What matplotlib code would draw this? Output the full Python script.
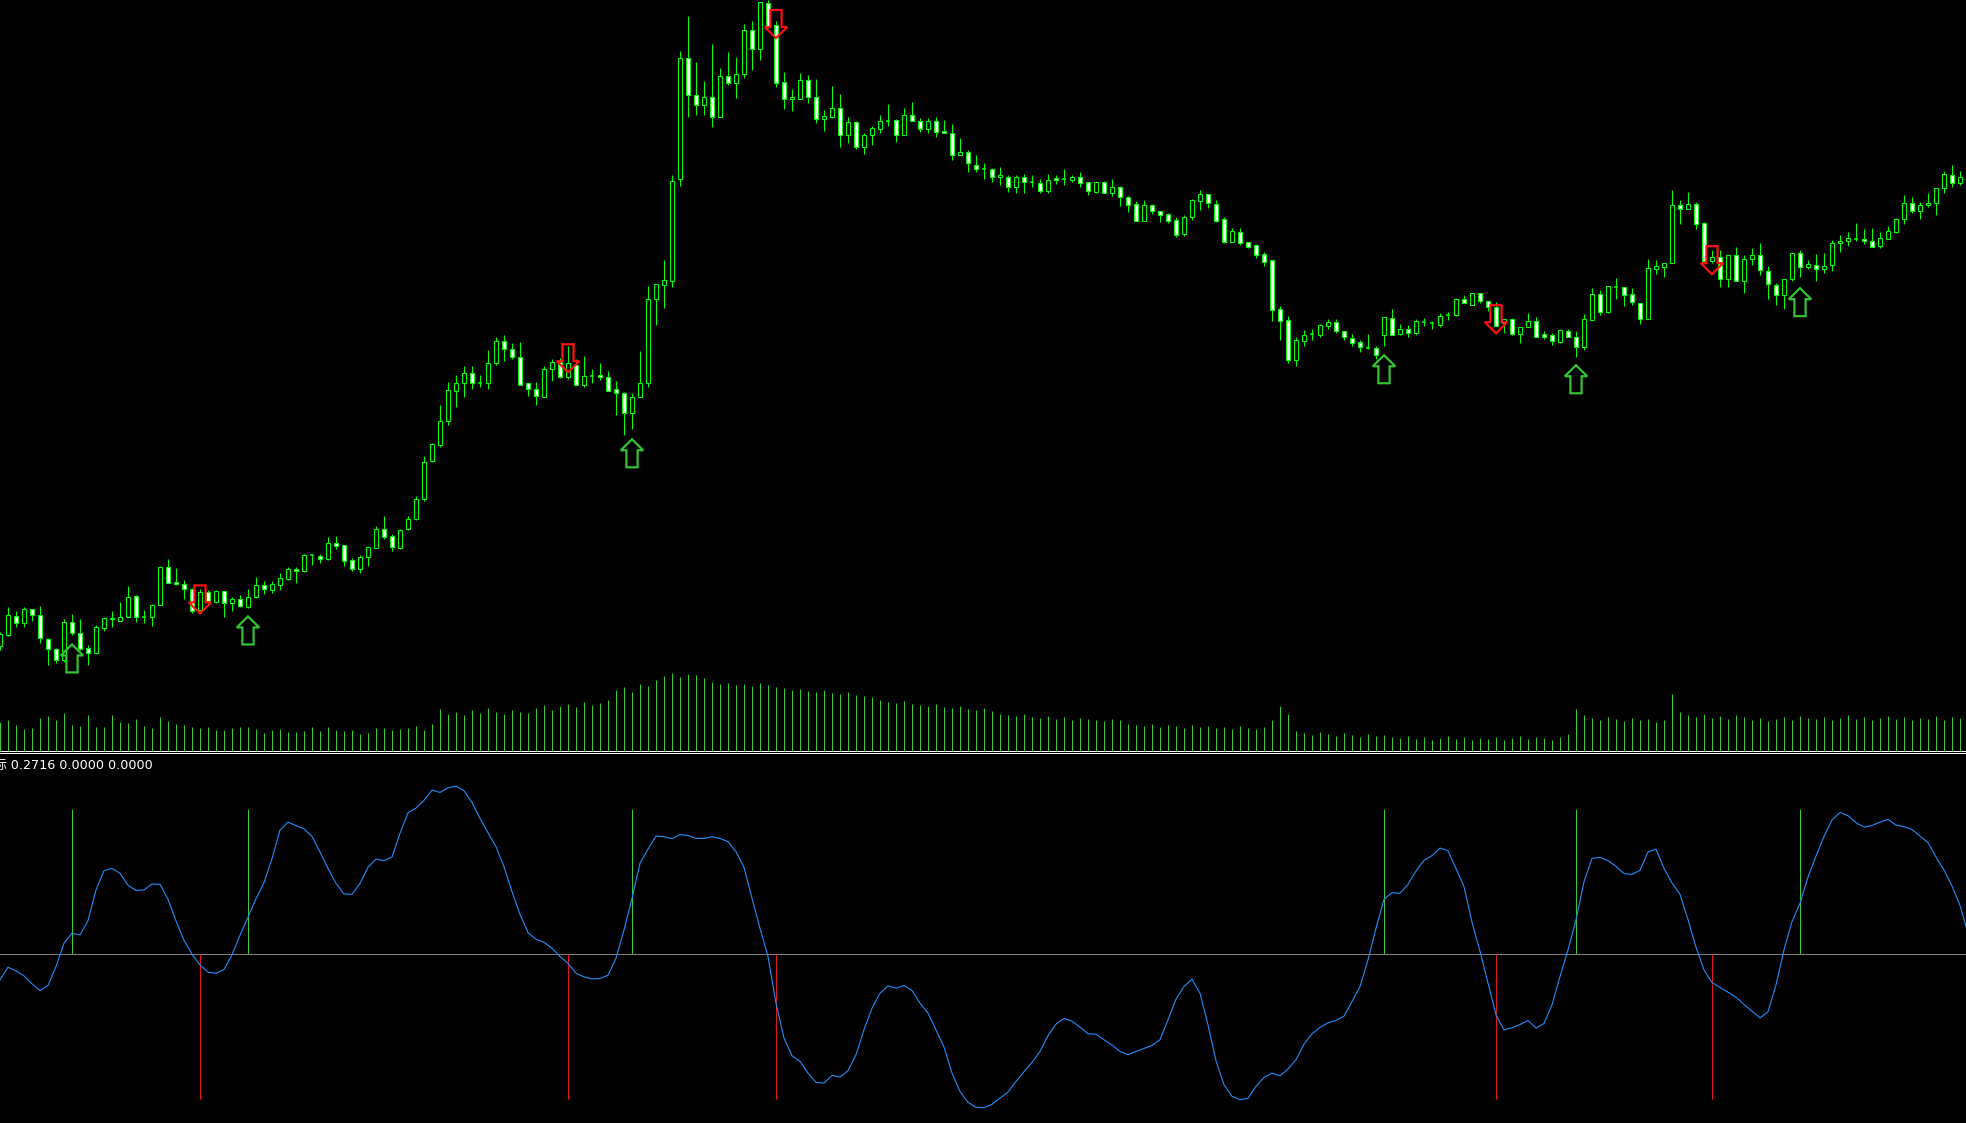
import matplotlib
matplotlib.use("Agg")
import matplotlib.pyplot as plt
from matplotlib.patches import Rectangle, Polygon
import numpy as np

# ---------------- data ----------------
OPEN = [154,165,184,177,191,185,161,151,140,178,
        167,152,147,172,181,179,183,204,183,183,
        195,233,218,216,211,190,208,198,209,197,
        201,193,203,215,210,215,221,231,229,245,
        244,241,257,255,240,231,243,252,271,264,
        252,271,281,301,339,355,379,409,417,427,
        417,417,437,459,451,443,417,411,403,431,
        438,423,435,415,424,425,423,411,407,387,
        403,417,501,515,519,621,742,705,695,703,
        683,724,717,726,770,751,797,775,718,701,
        701,720,703,681,683,692,665,678,653,665,
        671,679,680,665,685,679,671,679,669,667,
        645,648,635,631,631,623,623,613,623,618,
        617,609,622,621,620,623,618,608,618,607,
        613,603,596,579,595,589,586,580,566,583,
        599,606,596,581,558,568,558,555,546,540,
        491,480,440,459,466,465,474,478,469,462,
        458,452,452,465,482,466,471,467,478,477,
        475,485,485,501,495,507,499,493,477,481,
        466,473,479,466,465,458,469,463,453,480,
        506,488,513,513,506,497,481,531,533,537,
        595,591,596,577,539,543,521,545,519,541,
        545,529,515,505,521,547,533,535,531,535,
        557,559,561,561,559,554,561,568,581,597,
        589,595,597,612,625,617]
HIGH = [168,193,189,193,191,194,162,152,181,186,
        181,155,175,183,189,198,214,205,190,196,
        234,241,232,220,212,211,210,210,209,203,
        205,211,223,219,219,227,233,233,246,245,
        246,263,264,255,242,245,254,274,284,266,
        271,284,304,344,357,395,418,425,434,434,
        425,450,463,465,457,458,417,418,434,441,
        442,454,441,444,431,437,429,419,408,407,
        449,514,516,540,625,749,784,738,719,756,
        732,748,743,776,779,798,800,779,728,711,
        727,725,721,690,714,706,683,679,667,674,
        685,696,681,692,698,682,682,683,680,676,
        662,650,645,637,632,633,625,625,626,625,
        621,626,625,631,625,628,618,619,619,621,
        614,604,599,600,596,589,587,583,585,601,
        610,606,600,583,572,572,558,555,548,540,
        494,484,463,470,471,476,481,481,469,466,
        460,466,454,483,491,476,475,481,482,479,
        487,488,502,505,507,507,499,498,481,482,
        473,487,483,469,467,471,471,469,486,512,
        510,514,522,513,512,497,541,540,537,610,
        600,608,598,578,550,550,545,553,545,552,
        557,534,517,521,547,550,540,546,547,560,
        565,568,577,571,572,568,574,582,605,603,
        598,607,612,629,635,629]
LOW = [150,164,173,173,179,157,135,137,138,165,
       150,135,146,169,173,179,182,178,177,174,
       195,217,215,201,187,189,197,197,183,189,
       193,192,202,206,207,210,220,217,228,235,
       237,240,251,234,229,227,234,252,261,249,
       251,270,280,299,338,353,375,393,403,411,
       413,411,435,439,441,415,404,395,403,419,
       422,421,415,413,417,420,409,385,365,371,
       403,413,475,492,513,614,683,685,685,673,
       683,715,702,722,730,740,772,713,691,689,
       701,697,677,669,682,653,657,651,646,655,
       667,674,658,665,679,668,667,663,667,640,
       645,628,628,621,618,615,608,607,607,613,
       607,607,616,615,618,613,605,607,607,604,
       594,588,579,579,586,578,577,563,564,580,
       590,592,578,557,558,555,552,542,534,479,
       460,437,434,454,460,463,471,467,460,454,
       448,451,441,454,465,465,463,465,474,471,
       473,480,484,497,495,497,489,474,467,465,
       457,473,463,461,455,457,463,443,450,480,
       485,487,501,494,495,476,481,526,523,537,
       576,591,571,539,537,513,513,519,507,535,
       525,501,495,491,519,523,531,519,527,529,
       548,554,559,556,553,552,561,567,576,587,
       581,593,585,607,613,615]
CLOSE = [166,185,177,191,185,162,151,140,178,167,
         151,147,173,182,182,183,203,183,183,195,
         233,217,216,211,189,208,199,209,197,201,
         194,203,215,211,216,222,231,229,245,245,
         241,257,254,239,231,243,253,271,263,253,
         270,281,301,338,356,379,410,417,427,417,
         417,437,459,451,443,415,411,404,431,438,
         423,437,415,424,424,423,409,407,387,403,
         417,501,516,520,619,742,705,695,703,683,
         724,717,726,770,751,798,773,717,701,703,
         720,703,681,684,692,665,678,653,665,672,
         679,679,665,685,679,671,679,668,667,645,
         648,637,631,631,623,625,613,623,618,618,
         609,620,620,621,623,617,609,618,607,613,
         603,595,579,595,589,585,579,565,583,600,
         606,597,579,558,569,557,553,545,538,490,
         479,440,460,465,466,475,478,469,463,457,
         453,452,445,483,465,471,467,479,478,477,
         484,485,501,497,507,499,493,474,481,466,
         473,479,463,463,459,470,463,453,481,506,
         488,514,513,505,498,481,532,534,537,595,
         591,596,576,539,543,521,545,519,541,545,
         530,516,505,521,547,533,536,531,534,557,
         559,562,561,559,553,562,569,581,597,589,
         595,597,612,626,617,623]
VOLUME = [28,30,25,21,22,32,34,30,37,25,
          24,35,23,23,35,28,27,31,24,22,
          33,29,26,25,23,22,23,20,20,22,
          23,23,21,17,20,21,18,18,19,23,
          19,23,20,19,20,16,17,22,22,20,
          21,22,24,20,26,
          41,36,38,35,40,37,42,38,36,40,38,37,
          42,45,40,44,46,43,48,45,47,50,
          60,63,58,66,64,70,
          74,77,73,76,75,72,
          68,66,67,65,66,64,67,65,
          63,62,60,61,59,58,60,57,56,58,55,54,53,
          50,48,47,49,46,45,44,46,43,42,44,41,40,42,39,
          36,35,34,36,33,32,34,31,33,30,32,31,30,29,31,30,
          26,25,24,26,23,25,24,22,25,23,24,22,23,21,24,22,21,23,
          30,44,36,
          19,17,15,18,16,14,17,15,13,16,14,
          15,13,12,14,11,13,10,12,14,11,13,10,12,11,13,10,12,14,11,13,12,10,13,16,
          41,35,
          32,30,33,31,29,32,30,31,28,30,
          56,
          38,35,33,36,32,34,31,35,33,30,32,29,31,33,30,34,32,
          31,33,30,32,35,31,33,30,32,34,31,33,30,32,31,34,30,33,32]
# oscillator values (last one belongs to the bar just past the right edge)
OSC = [-77,-39,-50,-65,-89,-109,-94,-37,33,63,
       58,101,193,251,258,243,207,192,193,211,
       210,165,100,42,0,-32,-54,-57,-46,-2,
       57,111,167,215,287,373,397,386,377,354,
       307,258,213,181,180,213,261,286,281,292,
       363,425,439,462,493,486,500,505,491,456,
       408,365,323,263,188,120,65,45,36,18,
       -7,-27,-57,-68,-74,-73,-63,-12,73,168,
       273,316,355,353,347,359,357,348,348,353,
       348,338,308,261,168,78,-7,-147,-252,-305,
       -322,-357,-385,-387,-364,-369,-350,-302,-227,-162,
       -117,-95,-102,-94,-109,-147,-177,-227,-279,-357,
       -412,-445,-460,-461,-451,-432,-414,-382,-353,-325,
       -292,-245,-210,-193,-201,-219,-239,-240,-257,-273,
       -292,-302,-292,-283,-274,-257,-197,-135,-97,-75,
       -117,-212,-320,-392,-427,-437,-433,-397,-370,-357,
       -365,-345,-317,-270,-239,-220,-206,-199,-186,-142,
       -97,-17,78,165,185,183,210,250,282,296,
       319,311,257,203,96,9,-87,-182,-227,-221,
       -211,-199,-222,-208,-152,-67,13,103,218,288,
       291,281,264,242,240,252,307,316,258,214,
       180,104,21,-47,-85,-100,-114,-129,-151,-171,
       -191,-173,-92,13,98,153,232,295,354,403,
       426,416,395,382,387,397,405,388,383,375,
       355,335,292,253,205,147,63]
BUY_IDX = [9, 31, 79, 173, 197, 225]
BUY_PRICE = [156, 184, 361, 445, 435, 512]      # arrow tip
SELL_IDX = [25, 71, 97, 187, 214]
SELL_PRICE = [215, 456, 790, 495, 554]          # arrow top
BUY_LEVEL = 437
SELL_LEVEL = -435
LABEL = "标 0.2716 0.0000 0.0000"

# ---------------- figure ----------------
W, H = 1966, 1123
DPI = 100
fig = plt.figure(figsize=(W / DPI, H / DPI), dpi=DPI, facecolor="black")
px = 72.0 / DPI  # one pixel in points

main_top, main_bot = 0, 750.5
ind_top, ind_bot = 752.5, 1123
ax = fig.add_axes([0, 1 - main_bot / H, 1, (main_bot - main_top) / H])
axv = fig.add_axes([0, 1 - main_bot / H, 1, (main_bot - main_top) / H], sharex=ax)
axi = fig.add_axes([0, 0, 1, (ind_bot - ind_top) / H], sharex=ax)

n = len(CLOSE)
x = np.arange(n)
for a in (ax, axv, axi):
    a.set_facecolor("black")
    a.set_xticks([])
    a.set_yticks([])
    for s in a.spines.values():
        s.set_visible(False)
axv.set_facecolor("none")
axv.patch.set_alpha(0)

ax.set_xlim(0, W / 8.0)
ax.set_ylim(50, 800)
axv.set_ylim(0, 750)
axi.set_ylim(-507, 606)

# separators
ax.spines["bottom"].set_visible(True)
ax.spines["bottom"].set_color("white")
ax.spines["bottom"].set_linewidth(px)
axi.spines["top"].set_visible(True)
axi.spines["top"].set_color("white")
axi.spines["top"].set_linewidth(px)

LIME = "#00ff00"
# volume
axv.vlines(x, 0, VOLUME, color="#2fd02f", lw=px)

# candles
bw = 0.62
for i in range(n):
    o, h, l, c = OPEN[i], HIGH[i], LOW[i], CLOSE[i]
    ax.vlines(i, l, h, color=LIME, lw=px, zorder=2)
    if c == o:
        ax.hlines(o, i - bw / 2, i + bw / 2, color=LIME, lw=px * 1.5, zorder=3)
    else:
        fc = "black" if c > o else "white"
        ax.add_patch(Rectangle((i - bw / 2, min(o, c)), bw, abs(c - o),
                               facecolor=fc, edgecolor=LIME, lw=px, zorder=3))

# arrows
hw, sw, hl, al = 1.4, 0.7, 11, 28
for i, t in zip(BUY_IDX, BUY_PRICE):
    pts = [(i, t), (i + hw, t - hl), (i + sw, t - hl), (i + sw, t - al),
           (i - sw, t - al), (i - sw, t - hl), (i - hw, t - hl)]
    ax.add_patch(Polygon(pts, closed=True, facecolor="none",
                         edgecolor="#33c433", lw=2.2 * px, zorder=5))
for i, t in zip(SELL_IDX, SELL_PRICE):
    pts = [(i - sw, t), (i + sw, t), (i + sw, t - (al - hl)), (i + hw, t - (al - hl)),
           (i, t - al), (i - hw, t - (al - hl)), (i - sw, t - (al - hl))]
    ax.add_patch(Polygon(pts, closed=True, facecolor="none",
                         edgecolor="#ff1010", lw=2.2 * px, zorder=5))

# indicator
axi.axhline(0, color="#808080", lw=px, zorder=1)
axi.vlines(BUY_IDX, 0, BUY_LEVEL, color="#3cc83c", lw=px, zorder=2)
axi.vlines(SELL_IDX, 0, SELL_LEVEL, color="#e01818", lw=px, zorder=2)
axi.plot(np.arange(len(OSC)), OSC, color="#1e90ff", lw=px * 1.1, zorder=3)

fig.text(-6 / W, 1 - 765 / H, LABEL, color="white", fontsize=9.2,
         family=["DejaVu Sans", "Noto Sans CJK SC"], va="center", ha="left")

fig.savefig("out.png", dpi=DPI, facecolor="black")
